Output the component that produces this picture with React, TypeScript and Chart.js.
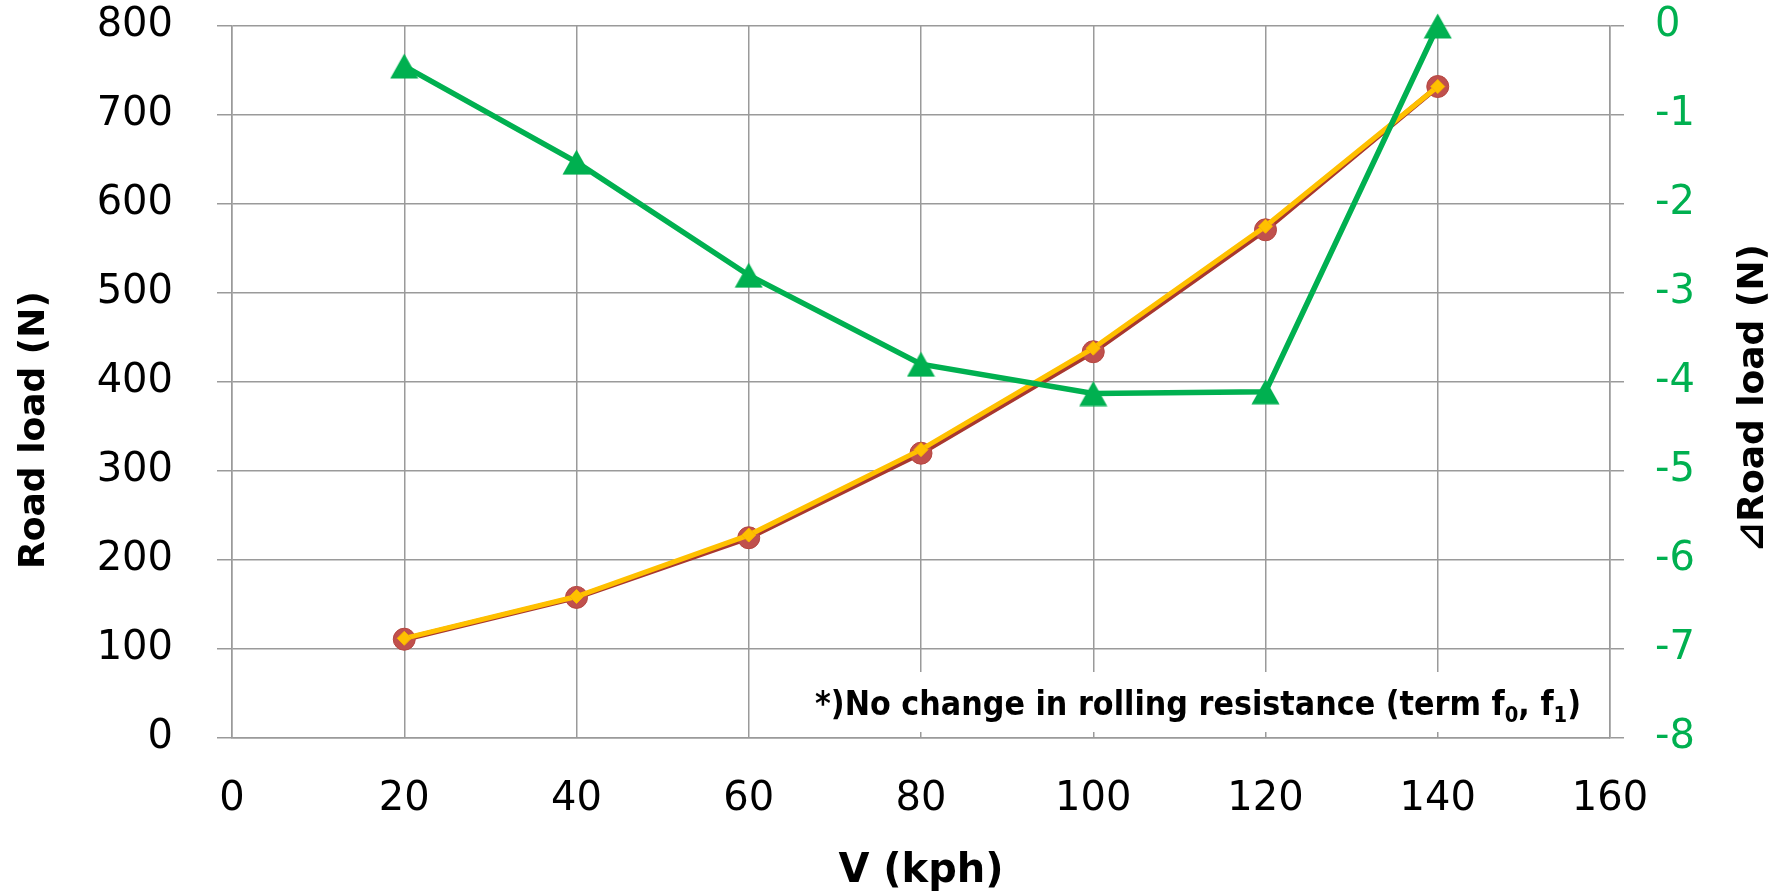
import React, { useEffect, useRef } from 'react';
import { Chart, registerables } from 'chart.js';

Chart.register(...registerables);

// ---- data ----
const speedKph = [20, 40, 60, 80, 100, 120, 140];
const roadLoadRed = [111, 158, 225, 320, 434, 571, 732];
const roadLoadOrange = [112, 159, 228, 324, 438, 575, 732];
const deltaRoadLoad = [-0.45, -1.53, -2.8, -3.8, -4.13, -4.11, 0];

const xAxisTicks = [0, 20, 40, 60, 80, 100, 120, 140, 160];
const leftAxisTicks = [0, 100, 200, 300, 400, 500, 600, 700, 800];
const rightAxisTicks = [-8, -7, -6, -5, -4, -3, -2, -1, 0];

const xTitle = 'V (kph)';
const leftTitle = 'Road load (N)';
const rightTitle = '⊿Road load (N)';
const noteParts: [string, boolean][] = [
  ['*)No change in rolling resistance (term f', false],
  ['0', true],
  [', f', false],
  ['1', true],
  [')', false],
];

const GRID = '#9a9a9a';
const GREEN = '#00B050';
const FONT = "'DejaVu Sans', sans-serif";

function makeTriangle(): HTMLCanvasElement {
  const c = document.createElement('canvas');
  c.width = 29;
  c.height = 26;
  const g = c.getContext('2d')!;
  g.fillStyle = GREEN;
  g.beginPath();
  g.moveTo(14.5, 0.5);
  g.lineTo(28.5, 25.5);
  g.lineTo(0.5, 25.5);
  g.closePath();
  g.fill();
  return c;
}

const decorPlugin = {
  id: 'decor',
  beforeDatasetsDraw(chart: any) {
    const ctx = chart.ctx as CanvasRenderingContext2D;
    ctx.save();
    ctx.fillStyle = '#ffffff';
    ctx.fillRect(802, 672, 798, 60);
    const mainFont = `bold 34px ${FONT}`;
    const subFont = `bold 22px ${FONT}`;
    let total = 0;
    noteParts.forEach(([t, sub]) => {
      ctx.font = sub ? subFont : mainFont;
      total += ctx.measureText(t).width;
    });
    const sx = 766 / total;
    ctx.translate(815, 715);
    ctx.scale(sx, 1);
    ctx.fillStyle = '#000';
    ctx.textBaseline = 'alphabetic';
    ctx.textAlign = 'left';
    let x = 0;
    noteParts.forEach(([t, sub]) => {
      ctx.font = sub ? subFont : mainFont;
      ctx.fillText(t, x, sub ? 7 : 0);
      x += ctx.measureText(t).width;
    });
    ctx.restore();
  },
  afterDraw(chart: any) {
    const ctx = chart.ctx as CanvasRenderingContext2D;
    const area = chart.chartArea;
    ctx.save();
    ctx.fillStyle = '#000';
    ctx.textAlign = 'center';
    ctx.font = `bold 40px ${FONT}`;
    ctx.textBaseline = 'alphabetic';
    ctx.fillText(xTitle, (area.left + area.right) / 2, 882);
    ctx.font = `bold 36px ${FONT}`;
    ctx.textBaseline = 'middle';
    ctx.save();
    ctx.translate(35, 430);
    ctx.rotate(-Math.PI / 2);
    ctx.fillText(leftTitle, 0, 0);
    ctx.restore();
    ctx.save();
    ctx.translate(1754, 398);
    ctx.rotate(-Math.PI / 2);
    ctx.fillText(rightTitle, 0, 0);
    ctx.restore();
    ctx.restore();
  },
};

const noVPad = (s: any) => {
  s.paddingTop = 0;
  s.paddingBottom = 0;
};

export default function App() {
  const ref = useRef<HTMLCanvasElement>(null);

  useEffect(() => {
    document.body.style.margin = '0';
    const canvas = ref.current!;
    const tri = makeTriangle();
    const chart = new Chart(canvas, {
      type: 'line',
      data: {
        datasets: [
          {
            label: 'Road load A',
            data: speedKph.map((v, i) => ({ x: v, y: roadLoadRed[i] })),
            yAxisID: 'y',
            borderColor: '#A8372F',
            borderWidth: 5.5,
            pointStyle: 'circle',
            pointRadius: 11,
            pointBackgroundColor: '#C0504D',
            pointBorderColor: '#B4453F',
            pointBorderWidth: 1,
            order: 3,
            clip: false as any,
          },
          {
            label: 'Road load B',
            data: speedKph.map((v, i) => ({ x: v, y: roadLoadOrange[i] })),
            yAxisID: 'y',
            borderColor: '#FFC000',
            borderWidth: 5,
            pointStyle: 'rectRot',
            pointRadius: 7,
            pointBackgroundColor: '#FFC000',
            pointBorderColor: '#F7B500',
            pointBorderWidth: 1,
            order: 2,
            clip: false as any,
          },
          {
            label: 'Delta road load',
            data: speedKph.map((v, i) => ({ x: v, y: deltaRoadLoad[i] })),
            yAxisID: 'y2',
            borderColor: GREEN,
            borderWidth: 5.5,
            pointStyle: tri as any,
            pointRadius: 12,
            order: 1,
            clip: false as any,
          },
        ],
      },
      options: {
        responsive: false,
        devicePixelRatio: 1,
        animation: false,
        layout: { padding: { top: 26, left: 0, right: 0, bottom: 0 } },
        plugins: {
          legend: { display: false },
          tooltip: { enabled: false },
        },
        elements: { line: { tension: 0 } },
        scales: {
          x: {
            type: 'linear',
            min: 0,
            max: 160,
            afterBuildTicks: (s: any) => {
              s.ticks = xAxisTicks.map((v) => ({ value: v }));
            },
            afterFit: (s: any) => {
              s.height = 155;
            },
            grid: { color: GRID, lineWidth: 1.5, drawTicks: false },
            border: { display: true, color: GRID, width: 1.5 },
            ticks: {
              padding: 38,
              color: '#000',
              font: { family: FONT, size: 40 },
              maxRotation: 0,
            },
          },
          y: {
            type: 'linear',
            position: 'left',
            min: 0,
            max: 800,
            afterBuildTicks: (s: any) => {
              s.ticks = leftAxisTicks.map((v) => ({ value: v }));
            },
            afterFit: (s: any) => {
              s.width = 232;
              noVPad(s);
            },
            grid: { color: GRID, lineWidth: 1.5, drawTicks: true, tickLength: 15 },
            border: { display: true, color: GRID, width: 1.5 },
            ticks: {
              padding: 44,
              color: '#000',
              font: { family: FONT, size: 40 },
            },
          },
          y2: {
            type: 'linear',
            position: 'right',
            min: -8,
            max: 0,
            afterBuildTicks: (s: any) => {
              s.ticks = rightAxisTicks.map((v) => ({ value: v }));
            },
            afterFit: (s: any) => {
              s.width = 170;
              noVPad(s);
            },
            grid: {
              color: GRID,
              lineWidth: 1.5,
              drawOnChartArea: false,
              drawTicks: true,
              tickLength: 14,
            },
            border: { display: true, color: GRID, width: 1.5 },
            ticks: {
              padding: 31,
              color: GREEN,
              font: { family: FONT, size: 40 },
            },
          },
        },
      },
      plugins: [decorPlugin],
    });
    return () => chart.destroy();
  }, []);

  return <canvas ref={ref} width={1780} height={893} style={{ display: 'block' }} />;
}
